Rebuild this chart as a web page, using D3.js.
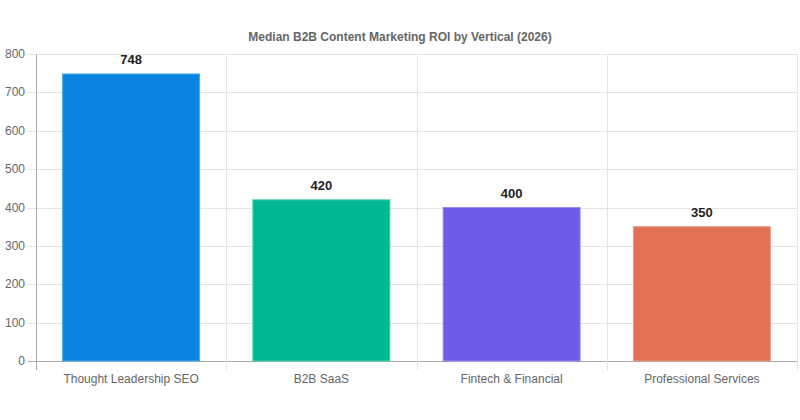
<!DOCTYPE html>
<html>
<head>
<meta charset="utf-8">
<script src="https://cdn.jsdelivr.net/npm/d3@7"></script>
<style>
  body { margin: 0; background: #fff; }
  svg { display: block; font-family: "Liberation Sans", Arial, sans-serif; }
</style>
</head>
<body>
<div id="chart"></div>
<script>
var categories = ["Thought Leadership SEO", "B2B SaaS", "Fintech & Financial", "Professional Services"];
var roi_values = [748, 420, 400, 350];
var bar_colors = ["#0984e3", "#00b894", "#6c5ce7", "#e17055"];
var y_ticks = [0, 100, 200, 300, 400, 500, 600, 700, 800];

var margin = { top: 54, right: 3, bottom: 59, left: 36 };
var width = 800 - margin.left - margin.right;
var height = 420 - margin.top - margin.bottom;

var data = categories.map(function(c, i) {
    return { name: c, value: roi_values[i], color: bar_colors[i] };
});

var svg = d3.select("#chart").append("svg")
    .attr("width", 800).attr("height", 420);

svg.append("text")
    .attr("x", 400).attr("y", 41)
    .attr("text-anchor", "middle")
    .attr("font-size", 12).attr("font-weight", "bold")
    .attr("fill", "#666")
    .text("Median B2B Content Marketing ROI by Vertical (2026)");

var g = svg.append("g").attr("transform", "translate(" + margin.left + "," + margin.top + ")");

var y = d3.scaleLinear().domain([0, 800]).range([height, 0]);
var x = d3.scaleBand().domain(categories).range([0, width]);

// horizontal grid
g.selectAll(".hgrid").data(y_ticks).enter().append("line")
    .attr("x1", -8).attr("x2", width)
    .attr("y1", d => Math.round(y(d)) + 0.5).attr("y2", d => Math.round(y(d)) + 0.5)
    .attr("stroke", d => d == 0 ? "#aaa" : "#e4e4e4").attr("stroke-width", 1);

// vertical grid at category boundaries
var bounds = categories.map(c => x(c)).concat([width]);
g.selectAll(".vgrid").data(bounds).enter().append("line")
    .attr("x1", d => Math.round(d) + 0.5).attr("x2", d => Math.round(d) + 0.5)
    .attr("y1", 0).attr("y2", height + 9)
    .attr("stroke", (d, i) => i == 0 ? "#aaa" : "#e4e4e4").attr("stroke-width", 1);

// y tick labels
g.selectAll(".ylab").data(y_ticks).enter().append("text")
    .attr("x", -11).attr("y", d => y(d) + 4)
    .attr("text-anchor", "end").attr("font-size", 12).attr("fill", "#666")
    .text(d => d);

// x labels
g.selectAll(".xlab").data(categories).enter().append("text")
    .attr("x", d => x(d) + x.bandwidth() / 2).attr("y", height + 22)
    .attr("text-anchor", "middle").attr("font-size", 12).attr("fill", "#666")
    .text(d => d);

var bw = x.bandwidth() * 0.72;

g.selectAll(".bar").data(data).enter().append("rect")
    .attr("x", d => x(d.name) + (x.bandwidth() - bw) / 2)
    .attr("y", d => y(d.value))
    .attr("width", bw)
    .attr("height", d => height - y(d.value))
    .attr("fill", d => d.color)
    .attr("stroke", d => d3.interpolateRgb(d.color, "#fff")(0.3))
    .attr("stroke-width", 1);

g.selectAll(".val").data(data).enter().append("text")
    .attr("x", d => x(d.name) + x.bandwidth() / 2)
    .attr("y", d => y(d.value) - 10)
    .attr("text-anchor", "middle").attr("font-size", 13).attr("font-weight", "bold")
    .attr("fill", "#222")
    .text(d => d.value);
</script>
</body>
</html>
